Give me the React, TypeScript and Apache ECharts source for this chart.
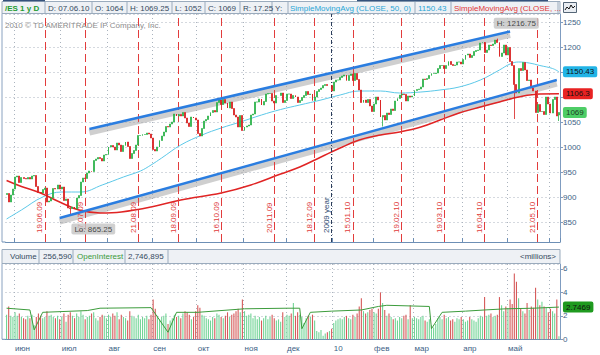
import React, { useEffect, useRef } from 'react';
import * as echarts from 'echarts';

// ---------- DATA ----------
const holidays = ['2009-07-03', '2009-09-07', '2009-11-26', '2009-12-25', '2010-01-01', '2010-01-18', '2010-02-15', '2010-04-02', '2010-05-31'];

function buildDates(): string[] {
  const out: string[] = [];
  const d = new Date(Date.UTC(2009, 4, 26));
  const end = Date.UTC(2010, 5, 7);
  while (d.getTime() <= end) {
    const wd = d.getUTCDay();
    const s = d.toISOString().slice(0, 10);
    if (wd !== 0 && wd !== 6 && holidays.indexOf(s) < 0) out.push(s);
    d.setUTCDate(d.getUTCDate() + 1);
  }
  return out;
}
const dates = buildDates();

// daily closes (ES)
const close2009May = [907, 890, 904, 916];
const close2009Jun = [940, 942, 929, 939, 937, 936, 939, 936, 942, 943, 921, 909, 908, 915, 918, 890, 892, 898, 917, 916, 924, 916];
const close2009Jul = [920, 893, 896, 878, 877, 880, 876, 898, 903, 930, 938, 937, 948, 952, 951, 973, 976, 979, 977, 972, 984, 985];
const close2009Aug = [1000, 1003, 1000, 994, 1008, 1004, 991, 1003, 1010, 1001, 977, 987, 993, 1004, 1023, 1023, 1025, 1025, 1028, 1026, 1018];
const close2009Sep = [995, 992, 1000, 1013, 1022, 1030, 1041, 1040, 1046, 1050, 1066, 1062, 1065, 1062, 1069, 1058, 1048, 1041, 1060, 1058, 1054];
const close2009Oct = [1027, 1022, 1037, 1052, 1055, 1062, 1069, 1073, 1070, 1089, 1094, 1085, 1095, 1088, 1078, 1090, 1077, 1064, 1060, 1040, 1063, 1033];
const close2009Nov = [1040, 1042, 1044, 1064, 1066, 1090, 1090, 1096, 1084, 1091, 1106, 1107, 1107, 1092, 1088, 1103, 1103, 1108, 1089, 1093];
const close2009Dec = [1106, 1106, 1097, 1103, 1100, 1089, 1093, 1099, 1103, 1111, 1105, 1106, 1093, 1100, 1111, 1115, 1118, 1123, 1125, 1123, 1123, 1112];
const close2010Jan = [1130, 1134, 1134, 1139, 1142, 1144, 1133, 1143, 1146, 1133, 1147, 1135, 1114, 1089, 1094, 1089, 1095, 1082, 1071];
const close2010Feb = [1086, 1100, 1094, 1060, 1063, 1054, 1068, 1065, 1076, 1073, 1092, 1097, 1104, 1106, 1105, 1092, 1102, 1100, 1102];
const close2010Mar = [1113, 1115, 1116, 1120, 1136, 1135, 1137, 1143, 1147, 1147, 1148, 1157, 1163, 1163, 1157, 1163, 1171, 1165, 1163, 1164, 1170, 1170, 1166];
const close2010Apr = [1175, 1184, 1186, 1179, 1183, 1191, 1193, 1194, 1208, 1209, 1189, 1194, 1204, 1203, 1206, 1214, 1209, 1181, 1188, 1204, 1184];
const close2010May = [1199, 1171, 1163, 1125, 1108, 1157, 1153, 1169, 1154, 1133, 1134, 1118, 1112, 1069, 1085, 1071, 1071, 1065, 1100, 1086];
const close2010Jun = [1068, 1095, 1100, 1062, 1069];
const firstOpen = 905;
const lastOpen = 1064;
const extremes: Record<string, { high?: number; low?: number }> = {
  '2009-07-08': { low: 865.25 },
  '2010-02-05': { low: 1041 },
  '2010-04-26': { high: 1216.75 },
  '2010-05-06': { low: 1056 },
  '2010-06-07': { high: 1069.25, low: 1052 },
};

// volume, millions
const vol2009May = [2.1, 2.8, 2.0, 1.9];
const vol2009Jun = [2.3, 2.0, 2.2, 1.9, 1.8, 1.7, 2.0, 1.8, 2.1, 1.2, 1.9, 2.2, 2.0, 1.8, 1.9, 2.4, 2.0, 2.1, 1.9, 1.8, 2.0, 1.7];
const vol2009Jul = [1.9, 2.2, 1.5, 2.1, 2.3, 2.0, 1.8, 2.2, 1.9, 2.4, 2.1, 1.7, 1.9, 2.0, 2.2, 2.3, 1.8, 1.6, 1.9, 2.1, 2.0, 1.8];
const vol2009Aug = [2.1, 1.9, 2.2, 2.0, 2.3, 1.7, 2.1, 1.9, 1.8, 1.6, 2.4, 2.0, 1.9, 1.8, 2.1, 1.7, 1.9, 1.8, 2.0, 1.7, 2.1];
const vol2009Sep = [3.4, 2.6, 2.0, 1.7, 1.9, 2.0, 2.2, 1.3, 1.6, 1.8, 2.1, 1.9, 2.0, 1.8, 2.2, 2.4, 2.3, 2.1, 1.7, 1.9, 2.4];
const vol2009Oct = [2.9, 2.7, 2.1, 2.0, 1.8, 1.7, 1.6, 1.9, 1.8, 2.2, 2.1, 1.9, 1.8, 2.0, 2.3, 1.9, 2.1, 2.2, 2.4, 2.6, 2.3, 3.4];
const vol2009Nov = [2.4, 2.0, 2.1, 2.2, 1.8, 2.0, 1.7, 1.9, 1.6, 1.8, 2.0, 1.7, 1.9, 2.1, 1.8, 1.6, 1.7, 1.5, 2.3, 1.9];
const vol2009Dec = [2.1, 2.0, 2.2, 3.1, 2.0, 2.3, 2.1, 1.9, 1.4, 1.8, 2.0, 1.9, 2.1, 1.6, 0.7, 0.6, 0.8, 0.3, 0.5, 0.6, 0.7, 0.9];
const vol2010Jan = [1.4, 1.6, 1.7, 1.8, 1.7, 1.9, 2.0, 1.8, 1.7, 2.1, 1.9, 2.2, 2.8, 3.5, 2.4, 2.2, 2.3, 2.5, 2.6];
const vol2010Feb = [2.3, 2.2, 2.6, 4.0, 3.1, 2.5, 2.0, 2.2, 1.9, 1.7, 1.8, 1.6, 1.9, 1.8, 2.0, 2.1, 1.7, 2.9, 1.8];
const vol2010Mar = [1.9, 1.8, 1.7, 1.9, 2.0, 1.6, 1.5, 1.7, 1.2, 1.0, 1.3, 1.8, 1.9, 1.7, 2.1, 1.8, 1.9, 1.6, 1.7, 1.5, 1.8, 1.7, 1.9];
const vol2010Apr = [1.7, 1.5, 1.6, 1.9, 1.7, 1.6, 1.5, 1.8, 2.0, 1.9, 3.6, 2.0, 2.1, 2.2, 1.9, 2.0, 2.1, 3.6, 2.9, 2.4, 2.8];
const vol2010May = [2.6, 3.4, 3.0, 5.6, 4.9, 3.5, 2.6, 2.4, 2.2, 3.1, 2.5, 2.8, 2.7, 4.4, 3.4, 2.9, 3.2, 2.8, 2.7, 2.3];
const vol2010Jun = [2.6, 2.4, 2.2, 3.4, 0.26];

// open interest, millions (sampled)
const openInterest: [string, number][] = [
  ['2009-05-26', 2.65], ['2009-06-10', 2.5], ['2009-06-12', 0.8], ['2009-06-18', 2.3], ['2009-07-20', 2.45],
  ['2009-07-28', 2.65], ['2009-08-31', 2.7], ['2009-09-11', 0.6], ['2009-09-17', 2.3], ['2009-10-01', 2.3],
  ['2009-11-02', 2.6], ['2009-12-01', 2.65], ['2009-12-09', 2.65], ['2009-12-10', 0.9], ['2009-12-16', 2.3],
  ['2009-12-31', 2.4], ['2010-01-22', 2.5], ['2010-02-03', 2.8], ['2010-02-09', 2.9], ['2010-03-10', 2.8],
  ['2010-03-11', 0.9], ['2010-03-18', 2.3], ['2010-04-05', 2.4], ['2010-04-16', 2.5], ['2010-04-30', 2.6],
  ['2010-05-19', 2.65], ['2010-06-07', 2.7469],
];

// moving averages (sampled from the chart)
const sma50: [string, number][] = [
  ['2009-05-26', 856], ['2009-06-04', 874], ['2009-06-18', 900], ['2009-07-01', 910], ['2009-07-15', 910],
  ['2009-07-29', 924], ['2009-08-12', 940], ['2009-08-24', 952], ['2009-08-31', 964], ['2009-09-08', 978],
  ['2009-09-21', 1004], ['2009-10-05', 1024], ['2009-10-16', 1038], ['2009-10-29', 1050], ['2009-11-12', 1064],
  ['2009-11-25', 1075], ['2009-12-09', 1084], ['2009-12-23', 1094], ['2010-01-07', 1104], ['2010-01-21', 1112],
  ['2010-02-04', 1112], ['2010-02-18', 1108], ['2010-03-04', 1110], ['2010-03-17', 1114], ['2010-03-30', 1120],
  ['2010-04-14', 1134], ['2010-04-27', 1154], ['2010-05-04', 1166], ['2010-05-10', 1170], ['2010-05-17', 1168],
  ['2010-05-24', 1163], ['2010-06-02', 1157], ['2010-06-07', 1150.43],
];
const sma200: [string, number][] = [
  ['2009-05-26', 933], ['2009-06-04', 921], ['2009-06-17', 908], ['2009-06-30', 890], ['2009-07-14', 874],
  ['2009-07-28', 868], ['2009-08-11', 870], ['2009-08-31', 880], ['2009-09-21', 894], ['2009-10-16', 908],
  ['2009-11-05', 924], ['2009-11-25', 946], ['2009-12-09', 960], ['2009-12-23', 980], ['2010-01-07', 998],
  ['2010-01-21', 1014], ['2010-02-04', 1024], ['2010-02-18', 1030], ['2010-03-04', 1040], ['2010-03-17', 1054],
  ['2010-03-30', 1068], ['2010-04-14', 1080], ['2010-04-27', 1090], ['2010-05-10', 1100], ['2010-05-24', 1106],
  ['2010-06-07', 1106.3],
];

// trend channel
const upperTrend: [string, number][] = [['2009-07-21', 1036], ['2010-05-04', 1231]];
const lowerTrend: [string, number][] = [['2009-06-30', 858], ['2010-06-04', 1134]];
const trendShadowOffset = 7;

// option expirations
const expiries: [string, string][] = [
  ['2009-06-19', '19.06.09'], ['2009-07-17', '17.07.09'], ['2009-08-21', '21.08.09'], ['2009-09-18', '18.09.09'],
  ['2009-10-16', '16.10.09'], ['2009-11-20', '20.11.09'], ['2009-12-18', '18.12.09'], ['2010-01-15', '15.01.10'],
  ['2010-02-19', '19.02.10'], ['2010-03-19', '19.03.10'], ['2010-04-16', '16.04.10'], ['2010-05-21', '21.05.10'],
];
const yearMark: [string, string] = ['2009-12-31', '2009 year'];

// price-axis ticks hidden behind the value badges
const coveredPriceTicks = [1150, 1100];

const ruMonths = ['янв', 'фев', 'мар', 'апр', 'май', 'июн', 'июл', 'авг', 'сен', 'окт', 'ноя', 'дек'];

const headerCells: [number, string, string, boolean][] = [
  [5, '/ES 1 y D', '#1e9c32', true],
  [48, 'D: 07.06.10', '#34495e', false],
  [95, 'O: 1064', '#34495e', false],
  [130, 'H: 1069.25', '#34495e', false],
  [175, 'L: 1052', '#34495e', false],
  [208, 'C: 1069', '#34495e', false],
  [243, 'R: 17.25', '#34495e', false],
  [275, 'Y:', '#34495e', false],
  [290, 'SimpleMovingAvg (CLOSE, 50, 0)', '#2aa6d6', false],
  [418, '1150.43', '#2aa6d6', false],
  [454, 'SimpleMovingAvg (CLOSE, ...', '#e03838', false],
];
const headerDividers = [45, 92, 127, 172, 205, 240, 272, 288, 415, 451, 558];
const volHeaderCells: [number, string, string][] = [
  [10, 'Volume', '#34495e'],
  [43, '256,590', '#34495e'],
  [77, 'OpenInterest', '#3a9a3a'],
  [128, '2,746,895', '#34495e'],
];
const volHeaderDividers = [39, 73, 125, 168];

// ---------- BUILD ----------
const closes = [
  ...close2009May, ...close2009Jun, ...close2009Jul, ...close2009Aug, ...close2009Sep, ...close2009Oct,
  ...close2009Nov, ...close2009Dec, ...close2010Jan, ...close2010Feb, ...close2010Mar, ...close2010Apr,
  ...close2010May, ...close2010Jun,
];
const volumes = [
  ...vol2009May, ...vol2009Jun, ...vol2009Jul, ...vol2009Aug, ...vol2009Sep, ...vol2009Oct,
  ...vol2009Nov, ...vol2009Dec, ...vol2010Jan, ...vol2010Feb, ...vol2010Mar, ...vol2010Apr,
  ...vol2010May, ...vol2010Jun,
];

const N = dates.length;
const candles = dates.map((d, i) => {
  const c = closes[Math.min(i, closes.length - 1)];
  const o = i === 0 ? firstOpen : i === N - 1 ? lastOpen : closes[i - 1];
  const ex = extremes[d] || {};
  const hi = ex.high !== undefined ? ex.high : Math.max(o, c);
  const lo = ex.low !== undefined ? ex.low : Math.min(o, c);
  return [o, c, lo, hi];
});
const volumeData = dates.map((d, i) => {
  const v = volumes[Math.min(i, volumes.length - 1)];
  const up = candles[i][1] >= candles[i][0];
  return { value: v, itemStyle: { color: up ? '#72d496' : '#d65a5a' } };
});

const monthStart = (i: number) => i > 0 && dates[i].slice(0, 7) !== dates[i - 1].slice(0, 7);
const monthLabel = (i: number) => monthStart(i) && i < N - 6;

const FONT = '"Liberation Sans", Arial, sans-serif';
const AXC = '#3d5f86';
const GRIDC = '#aab3be';

function badge(bg: string, color = '#111') {
  return { backgroundColor: bg, color, fontSize: 8, fontFamily: FONT, padding: [2, 3, 1, 3], borderRadius: 2 };
}

export default function App() {
  const ref = useRef<HTMLDivElement>(null);
  useEffect(() => {
    if (!ref.current) return;
    const chart = echarts.init(ref.current, undefined, { renderer: 'svg' });

    const graphics: any[] = [];
    // header row
    graphics.push({ type: 'rect', shape: { x: 2, y: 1.5, width: 558, height: 12 }, style: { fill: '#eef1f5', stroke: '#9aabbd', lineWidth: 1 }, z: 100 });
    headerDividers.forEach((x) => graphics.push({ type: 'line', shape: { x1: x, y1: 1.5, x2: x, y2: 13.5 }, style: { stroke: '#9aabbd', lineWidth: 1 }, z: 101 }));
    headerCells.forEach(([x, t, c, b]) => graphics.push({ type: 'text', x, y: 8, style: { text: t, fill: c, fontSize: 8, fontFamily: FONT, fontWeight: b ? 'bold' : 'normal', verticalAlign: 'middle' }, z: 102 }));
    graphics.push({ type: 'line', shape: { x1: 357, y1: 0.5, x2: 548, y2: 0.5 }, style: { stroke: '#35527c', lineWidth: 1.5 }, z: 103 });
    graphics.push({ type: 'line', shape: { x1: 3, y1: 0.5, x2: 45, y2: 0.5 }, style: { stroke: '#35527c', lineWidth: 1.5 }, z: 103 });
    // icon box
    graphics.push({ type: 'rect', shape: { x: 563.5, y: 2.5, width: 13, height: 10 }, style: { fill: '#e9edf2', stroke: '#556677', lineWidth: 1 }, z: 100 });
    graphics.push({ type: 'polyline', shape: { points: [[565, 10], [567, 7], [569, 9], [571, 5], [573, 8], [575, 6]] }, style: { stroke: '#111', lineWidth: 1, fill: 'none' }, z: 101 });
    // watermark
    graphics.push({ type: 'text', x: 5, y: 25, style: { text: '2010 © TD AMERITRADE IP Company, Inc.', fill: '#8c8c8c', fontSize: 8, fontFamily: FONT, verticalAlign: 'middle' }, z: 1 });
    // left borders
    graphics.push({ type: 'line', shape: { x1: 2, y1: 13.5, x2: 2, y2: 242 }, style: { stroke: '#8aa2c0', lineWidth: 1 }, z: 50 });
    graphics.push({ type: 'line', shape: { x1: 2, y1: 263.5, x2: 2, y2: 339.3 }, style: { stroke: '#8aa2c0', lineWidth: 1 }, z: 50 });
    graphics.push({ type: 'line', shape: { x1: 2, y1: 242, x2: 5.5, y2: 242 }, style: { stroke: '#6d8fb5', lineWidth: 1 }, z: 50 });
    graphics.push({ type: 'line', shape: { x1: 2, y1: 339.3, x2: 5.5, y2: 339.3 }, style: { stroke: '#6d8fb5', lineWidth: 1 }, z: 50 });
    // volume header
    graphics.push({ type: 'rect', shape: { x: 2, y: 249.5, width: 558, height: 14 }, style: { fill: '#eef1f5', stroke: '#9aabbd', lineWidth: 1 }, z: 100 });
    volHeaderDividers.forEach((x) => graphics.push({ type: 'line', shape: { x1: x, y1: 249.5, x2: x, y2: 263.5 }, style: { stroke: '#9aabbd', lineWidth: 1 }, z: 101 }));
    volHeaderCells.forEach(([x, t, c]) => graphics.push({ type: 'text', x, y: 256.5, style: { text: t, fill: c, fontSize: 8, fontFamily: FONT, verticalAlign: 'middle' }, z: 102 }));
    graphics.push({ type: 'text', x: 556, y: 256.5, style: { text: '<millions>', fill: '#34495e', fontSize: 8, fontFamily: FONT, verticalAlign: 'middle', align: 'right' }, z: 102 });

    const markData: any[] = expiries.map(([d, l]) => ({ xAxis: d, label: { formatter: l } }));
    markData.push({
      xAxis: yearMark[0],
      lineStyle: { color: '#2c3e5c', type: [4, 2, 1, 2], width: 1 },
      label: { formatter: yearMark[1], color: '#2c4a70' },
    });

    const option: any = {
      animation: false,
      backgroundColor: '#ffffff',
      textStyle: { fontFamily: FONT },
      graphic: graphics,
      grid: [
        { left: 5.5, right: 40, top: 14, bottom: 113 },
        { left: 5.5, right: 40, top: 264, bottom: 15.7 },
      ],
      xAxis: [
        {
          type: 'category', gridIndex: 0, data: dates, boundaryGap: true,
          axisLine: { show: true, lineStyle: { color: '#6d8fb5', width: 1 } },
          axisTick: { show: true, inside: true, length: 4, interval: (i: number) => monthStart(i), lineStyle: { color: '#6d8fb5' } },
          axisLabel: { show: false },
          splitLine: { show: true, interval: (i: number) => monthStart(i), lineStyle: { color: GRIDC, type: [1, 3] } },
        },
        {
          type: 'category', gridIndex: 1, data: dates, boundaryGap: true,
          axisLine: { show: true, lineStyle: { color: '#6d8fb5', width: 1 } },
          axisTick: { show: false },
          axisLabel: {
            interval: (i: number) => monthLabel(i), align: 'left', margin: 5, fontSize: 8, color: AXC, fontFamily: FONT,
            formatter: (v: string) => { const m = +v.slice(5, 7); return m === 1 ? v.slice(2, 4) : ruMonths[m - 1]; },
          },
          splitLine: { show: true, interval: (i: number) => monthStart(i), lineStyle: { color: GRIDC, type: [1, 3] } },
        },
      ],
      yAxis: [
        {
          type: 'value', gridIndex: 0, position: 'right', min: 810, max: 1266, splitNumber: 9, scale: true,
          axisLine: { show: true, lineStyle: { color: '#7f9cc0' } },
          axisTick: { show: true, length: 3, lineStyle: { color: '#7f9cc0' } },
          axisLabel: {
            showMinLabel: false, showMaxLabel: false, fontSize: 8, color: AXC, margin: 3, fontFamily: FONT,
            formatter: (v: number) => (coveredPriceTicks.indexOf(v) >= 0 ? '' : String(v)),
          },
          splitLine: { show: true, lineStyle: { color: GRIDC, type: [1, 3] } },
        },
        {
          type: 'value', gridIndex: 1, position: 'right', min: 0, max: 6.42, interval: 2,
          axisLine: { show: true, lineStyle: { color: '#7f9cc0' } },
          axisTick: { show: true, length: 3, lineStyle: { color: '#7f9cc0' } },
          axisLabel: { showMaxLabel: false, fontSize: 8, color: AXC, margin: 3, fontFamily: FONT, formatter: (v: number) => String(v) },
          splitLine: { show: true, lineStyle: { color: GRIDC, type: [1, 3] } },
        },
      ],
      series: [
        {
          type: 'line', name: 'upperShadow', xAxisIndex: 0, yAxisIndex: 0, symbol: 'none', silent: true, z: 3,
          data: upperTrend.map(([d, v]) => [d, v - trendShadowOffset]),
          lineStyle: { color: 'rgba(160,160,160,0.5)', width: 6 },
        },
        {
          type: 'line', name: 'lowerShadow', xAxisIndex: 0, yAxisIndex: 0, symbol: 'none', silent: true, z: 3,
          data: lowerTrend.map(([d, v]) => [d, v - trendShadowOffset]),
          lineStyle: { color: 'rgba(160,160,160,0.5)', width: 6 },
        },
        {
          type: 'line', name: 'SMA50', xAxisIndex: 0, yAxisIndex: 0, symbol: 'none', smooth: 0.4, z: 4,
          data: sma50, lineStyle: { color: '#5cc8e8', width: 1 },
          endLabel: { show: true, formatter: () => '1150.43', distance: 4, ...badge('#22b4e6') },
        },
        {
          type: 'line', name: 'SMA200', xAxisIndex: 0, yAxisIndex: 0, symbol: 'none', smooth: 0.4, z: 4,
          data: sma200, lineStyle: { color: '#e02424', width: 1.5 },
          endLabel: { show: true, formatter: () => '1106.3', distance: 4, ...badge('#e82222') },
        },
        {
          type: 'candlestick', name: '/ES', xAxisIndex: 0, yAxisIndex: 0, data: candles, barWidth: 1.4, z: 5,
          itemStyle: { color: '#2cb34a', color0: '#d81e1e', borderColor: '#2cb34a', borderColor0: '#d81e1e', borderWidth: 0.8 },
          markLine: {
            symbol: ['none', 'none'], silent: true, animation: false,
            lineStyle: { color: '#e23c3c', type: [8, 4], width: 1 },
            label: { show: true, position: 'insideStartTop', distance: [9, 1], color: '#e03a3a', fontSize: 8, fontFamily: FONT },
            data: markData,
          },
        },
        {
          type: 'line', name: 'upper', xAxisIndex: 0, yAxisIndex: 0, symbol: 'none', z: 6,
          data: upperTrend, lineStyle: { color: '#2a7de0', width: 2.5 },
        },
        {
          type: 'line', name: 'lower', xAxisIndex: 0, yAxisIndex: 0, symbol: 'none', z: 6,
          data: lowerTrend, lineStyle: { color: '#2a7de0', width: 2.5 },
        },
        {
          type: 'scatter', name: 'lo', xAxisIndex: 0, yAxisIndex: 0, symbolSize: 0, z: 8, silent: true,
          data: [['2009-07-08', 865.25]],
          label: { show: true, position: 'bottom', distance: 9, offset: [23, 0], formatter: 'Lo: 865.25', ...badge('#c4c4c4', '#222') },
        },
        {
          type: 'scatter', name: 'hi', xAxisIndex: 0, yAxisIndex: 0, symbolSize: 0, z: 8, silent: true,
          data: [['2010-04-26', 1216.75]],
          label: { show: true, position: 'top', distance: 10, offset: [19, 0], formatter: 'H: 1216.75', ...badge('#c4c4c4', '#222') },
        },
        {
          type: 'scatter', name: 'last', xAxisIndex: 0, yAxisIndex: 0, symbolSize: 0, z: 8, silent: true,
          data: [[dates[N - 1], closes[closes.length - 1]]],
          label: { show: true, position: 'right', distance: 4, formatter: (p: any) => String(p.value[1]), ...badge('#22c040') },
        },
        {
          type: 'bar', name: 'Volume', xAxisIndex: 1, yAxisIndex: 1, data: volumeData, barWidth: 1.1, z: 3,
        },
        {
          type: 'line', name: 'OpenInterest', xAxisIndex: 1, yAxisIndex: 1, symbol: 'none', z: 4,
          data: openInterest, lineStyle: { color: '#3c9c3c', width: 1 },
          endLabel: { show: true, formatter: () => '2.7469', distance: 4, ...badge('#1f9a1f') },
        },
      ],
    };
    chart.setOption(option);
    return () => chart.dispose();
  }, []);
  return <div ref={ref} style={{ position: 'absolute', left: 0, top: 0, width: 600, height: 355 }} />;
}
